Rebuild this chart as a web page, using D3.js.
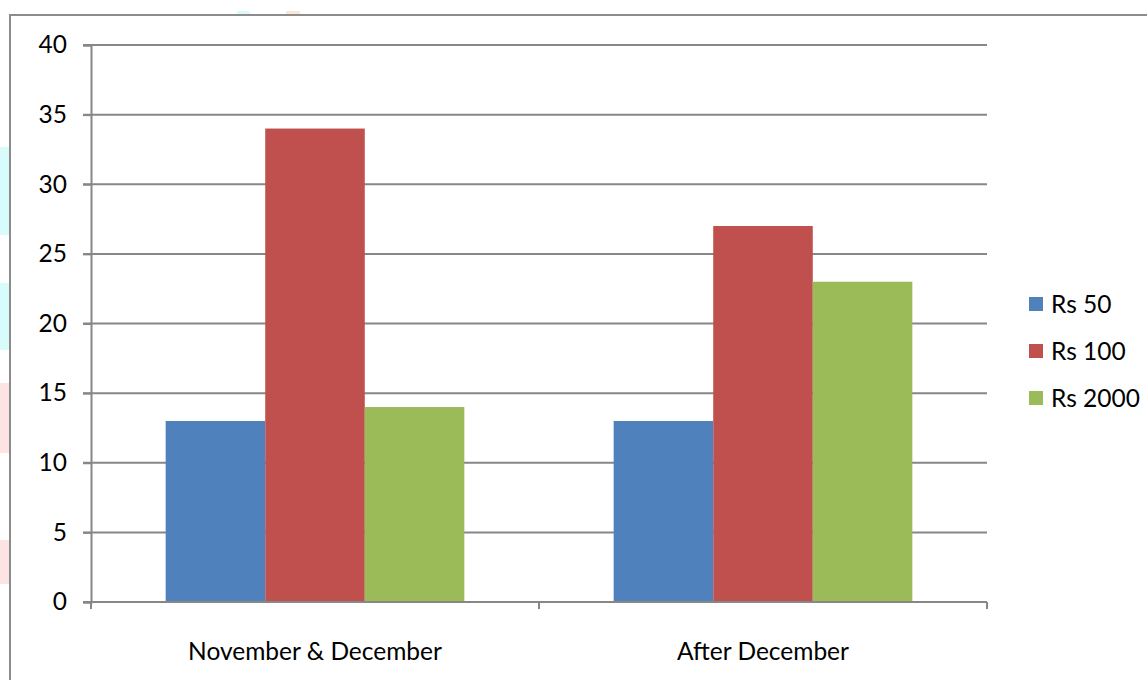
<!DOCTYPE html>
<html>
<head>
<meta charset="utf-8">
<script src="https://cdn.jsdelivr.net/npm/d3@7"></script>
<style>
  html, body { margin: 0; padding: 0; background: #fff; }
  svg { display: block; }
  text { font-family: Lato, "Open Sans", sans-serif; fill: #000; }
</style>
</head>
<body>
<svg id="chart" width="1147" height="680"></svg>
<script>
// Periods on the x axis
const categories = ["November & December", "After December"];
// Note denominations shown as series
const seriesNames = ["Rs 50", "Rs 100", "Rs 2000"];
const seriesColors = ["#4F81BD", "#C0504D", "#9BBB59"];
// Values per series, one entry per period
const rs50 = [13, 13];
const rs100 = [34, 27];
const rs2000 = [14, 23];
// Y axis ticks
const yTicks = [0, 5, 10, 15, 20, 25, 30, 35, 40];

const seriesValues = [rs50, rs100, rs2000];

const svg = d3.select("#chart");
const W = 1147, H = 680;
const plot = { left: 91, right: 987, top: 45, bottom: 602 };
const gridColor = "#878787";
const fontSize = "24.5px";

// faint background patches at the page edge
const patches = [
  { x: 0, y: 147, w: 9, h: 88, c: "#d8fbfb" },
  { x: 0, y: 283, w: 9, h: 67, c: "#d8fbfb" },
  { x: 0, y: 383, w: 9, h: 70, c: "#fde3e3" },
  { x: 0, y: 540, w: 9, h: 44, c: "#fde3e3" },
  { x: 237, y: 11, w: 13, h: 4, c: "#d8fbfb" },
  { x: 286, y: 11, w: 14, h: 4, c: "#fde6d2" }
];
svg.selectAll("rect.patch").data(patches).join("rect")
  .attr("class", "patch")
  .attr("x", d => d.x).attr("y", d => d.y)
  .attr("width", d => d.w).attr("height", d => d.h)
  .attr("fill", d => d.c);

// chart frame
svg.append("path")
  .attr("d", `M10,${H} L10,15 L${W},15`)
  .attr("fill", "none")
  .attr("stroke", "#8c8c8c")
  .attr("stroke-width", 2);

const x0 = d3.scaleBand()
  .domain(categories)
  .range([plot.left, plot.right])
  .paddingInner(0)
  .paddingOuter(0);

// bars fill 3/(3+1.5) of each category slot
const groupW = x0.bandwidth() * 3 / 4.5;
const x1 = d3.scaleBand()
  .domain(seriesNames)
  .range([0, groupW])
  .padding(0);

const y = d3.scaleLinear()
  .domain([0, 40])
  .range([plot.bottom, plot.top]);

// horizontal gridlines
svg.append("g")
  .selectAll("line")
  .data(yTicks.filter(t => t > 0))
  .join("line")
  .attr("x1", plot.left - 8)
  .attr("x2", plot.right)
  .attr("y1", d => y(d))
  .attr("y2", d => y(d))
  .attr("stroke", gridColor)
  .attr("stroke-width", 2);

// y axis
const yAxis = d3.axisLeft(y)
  .tickValues(yTicks)
  .tickSize(8)
  .tickPadding(16)
  .tickFormat(d3.format("d"));
const gy = svg.append("g")
  .attr("transform", `translate(${plot.left},0)`)
  .call(yAxis);
gy.select(".domain").attr("stroke", gridColor).attr("stroke-width", 2);
gy.selectAll(".tick line").attr("stroke", gridColor).attr("stroke-width", 2);
gy.selectAll(".tick text")
  .style("font-family", "Lato, 'Open Sans', sans-serif")
  .style("font-size", fontSize)
  .attr("fill", "#000");

// bars
const groups = svg.append("g")
  .selectAll("g")
  .data(categories)
  .join("g")
  .attr("transform", d => `translate(${x0(d) + (x0.bandwidth() - groupW) / 2},0)`);

groups.selectAll("rect")
  .data((c, ci) => seriesNames.map((s, si) => ({ s, color: seriesColors[si], v: seriesValues[si][ci] })))
  .join("rect")
  .attr("x", d => x1(d.s))
  .attr("width", x1.bandwidth())
  .attr("y", d => y(d.v))
  .attr("height", d => y(0) - y(d.v))
  .attr("fill", d => d.color);

// x axis
const xAxis = d3.axisBottom(x0)
  .tickSize(0)
  .tickPadding(41);
const gx = svg.append("g")
  .attr("transform", `translate(0,${plot.bottom})`)
  .call(xAxis);
gx.select(".domain").remove();
gx.selectAll(".tick text")
  .style("font-family", "Lato, 'Open Sans', sans-serif")
  .style("font-size", fontSize)
  .attr("fill", "#000");

// x axis line and category boundary ticks
svg.append("line")
  .attr("x1", plot.left - 8).attr("x2", plot.right)
  .attr("y1", plot.bottom).attr("y2", plot.bottom)
  .attr("stroke", gridColor).attr("stroke-width", 2);
const bounds = categories.map(c => x0(c)).concat([x0(categories[categories.length - 1]) + x0.bandwidth()]);
svg.append("g").selectAll("line")
  .data(bounds)
  .join("line")
  .attr("x1", d => d).attr("x2", d => d)
  .attr("y1", plot.bottom).attr("y2", plot.bottom + 7)
  .attr("stroke", gridColor).attr("stroke-width", 2);

// legend
const legend = svg.append("g")
  .attr("transform", "translate(1029,304)");
const items = legend.selectAll("g")
  .data(seriesNames)
  .join("g")
  .attr("transform", (d, i) => `translate(0,${i * 47})`);
items.append("rect")
  .attr("x", 0).attr("y", -7)
  .attr("width", 14).attr("height", 14)
  .attr("fill", (d, i) => seriesColors[i]);
items.append("text")
  .attr("x", 22)
  .attr("dy", "0.35em")
  .style("font-size", fontSize)
  .text(d => d);
</script>
</body>
</html>
